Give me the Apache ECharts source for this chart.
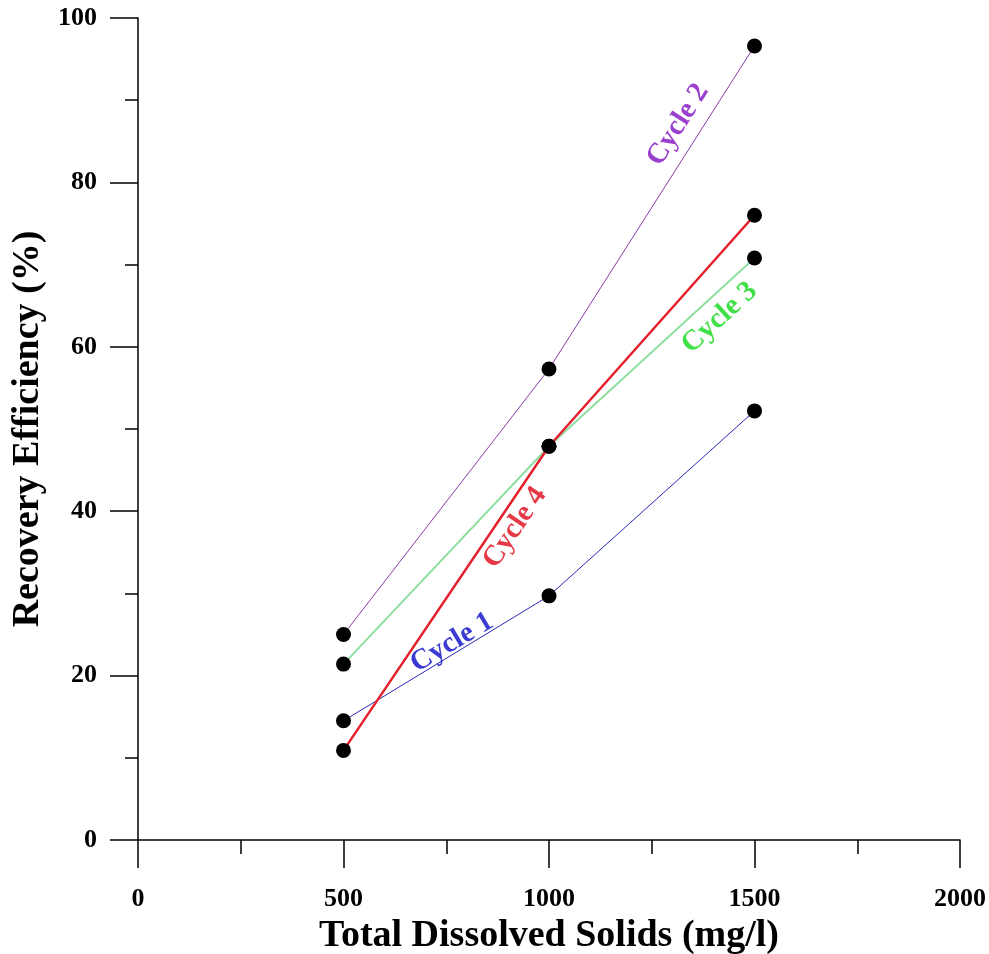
<!DOCTYPE html>
<html>
<head>
<meta charset="utf-8">
<script src="https://cdn.jsdelivr.net/npm/echarts@6/dist/echarts.min.js"></script>
<style>
  html, body { margin: 0; padding: 0; background: #fff; }
  #chart { width: 989px; height: 954px; }
</style>
</head>
<body>
<div id="chart"></div>
<script>
// x values (mg/l)
var tds = [500, 1000, 1500];

// recovery efficiency (%) per cycle
var cycle1 = [14.5, 29.7, 52.2];
var cycle2 = [25.0, 57.3, 96.6];
var cycle3 = [21.4, 47.9, 70.8];
var cycle4 = [10.9, 47.9, 76.0];

var cycleNames = ['Cycle 1', 'Cycle 2', 'Cycle 3', 'Cycle 4'];
var cycleColors = ['#2a2ab8', '#8a3aa8', '#8fe0a0', '#e4202c'];
var cycleWidths = [1, 1, 2, 2.5];
var textColors = ['#0a0ac8', '#8010c0', '#10d818', '#e00818'];

// where each cycle's name sits along its line (data coords) and its tilt
var labelX = [764, 1314, 1415, 917];
var labelY = [24, 87, 63.5, 38];
var labelAngle = [31, 57.5, 42.5, 56];

var serif = 'Liberation Serif';

var allData = [cycle1, cycle2, cycle3, cycle4];
var series = [];
for (var i = 0; i < allData.length; i++) {
  series.push({
    name: cycleNames[i],
    type: 'line',
    data: tds.map(function (x, j) { return [x, allData[i][j]]; }),
    symbol: 'circle',
    symbolSize: 15,
    itemStyle: { color: '#000' },
    lineStyle: { color: cycleColors[i], width: cycleWidths[i] },
    z: i == 3 ? 4 : 3
  });
}

series.push({
  name: 'names',
  type: 'scatter',
  symbolSize: 1,
  itemStyle: { color: 'rgba(0,0,0,0)' },
  silent: true,
  z: 6,
  data: cycleNames.map(function (n, i) {
    return {
      value: [labelX[i], labelY[i]],
      name: n,
      label: {
        show: true,
        position: 'inside',
        formatter: n,
        rotate: labelAngle[i],
        color: textColors[i],
        fontFamily: serif,
        fontWeight: 'bold',
        fontSize: 29
      }
    };
  })
});

var myChart = echarts.init(document.getElementById('chart'));
var option = {
  backgroundColor: '#fff',
  animation: false,
  grid: { left: 138, top: 18, right: 29, bottom: 114, containLabel: false, outerBoundsMode: 'none' },
  xAxis: {
    type: 'value',
    min: 0, max: 2000, interval: 500,
    name: 'Total Dissolved Solids (mg/l)',
    nameLocation: 'middle',
    nameGap: 69,
    nameTextStyle: { fontFamily: serif, fontWeight: 'bold', fontSize: 38, color: '#000' },
    axisLine: { lineStyle: { color: '#000', width: 1.5 } },
    axisTick: { length: 28, lineStyle: { color: '#000', width: 1.5 } },
    minorTick: { show: true, splitNumber: 2, length: 14, lineStyle: { color: '#000', width: 1.5 } },
    splitLine: { show: false },
    axisLabel: { fontFamily: serif, fontWeight: 'bold', fontSize: 26, color: '#000', margin: 46,
      formatter: function (v) { return String(v); } }
  },
  yAxis: {
    type: 'value',
    min: 0, max: 100, interval: 20,
    name: 'Recovery Efficiency (%)',
    nameLocation: 'middle',
    nameGap: 84,
    nameRotate: 90,
    nameTextStyle: { fontFamily: serif, fontWeight: 'bold', fontSize: 38, color: '#000' },
    axisLine: { lineStyle: { color: '#000', width: 1.5 } },
    axisTick: { length: 28, lineStyle: { color: '#000', width: 1.5 } },
    minorTick: { show: true, splitNumber: 2, length: 13, lineStyle: { color: '#000', width: 1.5 } },
    splitLine: { show: false },
    axisLabel: { fontFamily: serif, fontWeight: 'bold', fontSize: 26, color: '#000', margin: 41,
      formatter: function (v) { return String(v); } }
  },
  series: series
};
myChart.setOption(option);
</script>
</body>
</html>
